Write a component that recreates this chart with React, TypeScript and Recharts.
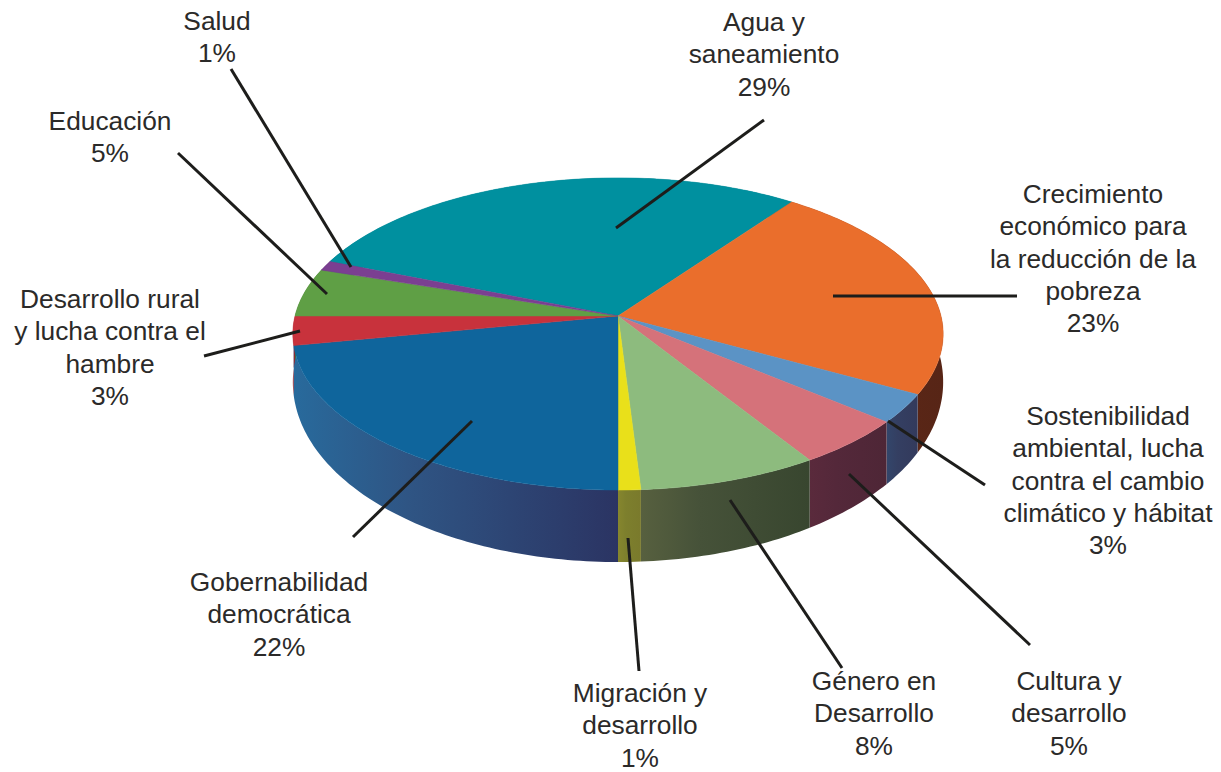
import { PieChart, Pie } from 'recharts';

const categories = [
    ['Agua y', 'saneamiento'],
    ['Crecimiento', 'económico para', 'la reducción de la', 'pobreza'],
    ['Sostenibilidad', 'ambiental, lucha', 'contra el cambio', 'climático y hábitat'],
    ['Cultura y', 'desarrollo'],
    ['Género en', 'Desarrollo'],
    ['Migración y', 'desarrollo'],
    ['Gobernabilidad', 'democrática'],
    ['Desarrollo rural', 'y lucha contra el', 'hambre'],
    ['Educación'],
    ['Salud'],
];
const values = [29, 23, 3, 5, 8, 1, 22, 3, 5, 1];

const topColors = ['#00909f', '#ea6e2c', '#5b93c5', '#d5727a', '#8dbb7e', '#e9e01a', '#0f659c', '#c8323c', '#5f9f45', '#7b3f91'];
const wallLeft = ['#00707c', '#6e2d18', '#33466b', '#5a2a3c', '#57603f', '#86862e', '#286a9c', '#8e2a35', '#3f6f30', '#552c66'];
const wallMid = ['#00707c', '#5f2817', '#343f62', '#54283a', '#465239', '#7d7f2d', '#2f5584', '#8e2a35', '#3f6f30', '#552c66'];
const wallRight = ['#00707c', '#572516', '#333a5c', '#4e2636', '#38462f', '#7a7a2c', '#2b3463', '#8e2a35', '#3f6f30', '#552c66'];

// label placement: centre x, first baseline y, leader line ends
const labelX = [764, 1093, 1108, 1069, 874, 640, 279, 110, 110, 217];
const labelY = [31, 203, 425, 690, 690, 702, 591, 308, 130, 30];
const leaders = [
    [764, 120, 616, 228],
    [1017, 296, 833, 296],
    [985, 485, 888, 421],
    [1030, 645, 849, 474],
    [842, 668, 730, 500],
    [639, 671, 628, 538],
    [353, 537, 472, 421],
    [204, 356, 300, 331],
    [178, 153, 327, 294],
    [231, 69, 351, 267],
];

const SQUASH_X = 323;
const SQUASH_Y = 154;
const PERSPECTIVE = 0.115;

// disc angle -> screen point, near edge of the disc drawn larger
const project = (cx: number, cy: number, deg: number, r = 1) => {
    const t = (deg * Math.PI) / 180;
    const x = r * Math.cos(t);
    const y = r * Math.sin(t);
    const w = 1 + PERSPECTIVE * y;
    return [cx + (SQUASH_X * x) / w, cy - (SQUASH_Y * y) / w];
};

const rim = (cx: number, cy: number, from: number, to: number) => {
    const steps = Math.max(2, Math.ceil(Math.abs(from - to)));
    const pts = [];
    for (let i = 0; i <= steps; i++) {
        pts.push(from + ((to - from) * i) / steps);
    }
    return pts.map(a => ({ a, p: project(cx, cy, a) }));
};

const depthAt = (deg: number) => 45 - 27 * Math.sin((deg * Math.PI) / 180);

const TopSlice = (props: any) => {
    const { cx, cy, startAngle, endAngle, index } = props;
    const pts = rim(cx, cy, startAngle, endAngle).map(q => `${q.p[0]},${q.p[1]}`);
    return <path d={`M${cx},${cy}L${pts.join('L')}Z`} fill={topColors[index]} stroke={topColors[index]} strokeWidth={0.5} />;
};

const WallSlice = (props: any) => {
    const { cx, cy, startAngle, endAngle, index } = props;
    const top = rim(cx, cy, startAngle, endAngle);
    const upper = top.map(q => `${q.p[0]},${q.p[1]}`);
    const lower = [...top].reverse().map(q => `${q.p[0]},${q.p[1] + depthAt(q.a)}`);
    return (
        <g>
            <defs>
                <linearGradient id={`wall-${index}`} x1="0" y1="0" x2="1" y2="0">
                    <stop offset="0%" stopColor={wallLeft[index]} />
                    <stop offset="35%" stopColor={wallMid[index]} />
                    <stop offset="100%" stopColor={wallRight[index]} />
                </linearGradient>
            </defs>
            <path d={`M${upper.join('L')}L${lower.join('L')}Z`} fill={`url(#wall-${index})`} />
        </g>
    );
};

const renderLabel = (props: any) => {
    const { index } = props;
    const [x1, y1, x2, y2] = leaders[index];
    const lines = [...categories[index], `${values[index]}%`];
    return (
        <g key={index}>
            <line x1={x1} y1={y1} x2={x2} y2={y2} stroke="#1d1d1b" strokeWidth={3} />
            <text x={labelX[index]} y={labelY[index]} textAnchor="middle" fontFamily="Liberation Sans" fontSize={26.3} fill="#2b2a29">
                {lines.map((line, i) => (
                    <tspan key={i} x={labelX[index]} dy={i === 0 ? 0 : 32.3}>{line}</tspan>
                ))}
            </text>
        </g>
    );
};

const chartData = categories.map((c, i) => ({ name: c.join(' '), value: values[i] }));

export default function App() {
    return (
        <div style={{ position: 'absolute', left: 0, top: 0, width: 1221, height: 772, background: '#fff' }}>
            <PieChart width={1221} height={772} margin={{ top: 0, right: 0, bottom: 0, left: 0 }}>
                <Pie
                    data={chartData}
                    dataKey="value"
                    cx={618}
                    cy={316}
                    outerRadius={323}
                    startAngle={158.4}
                    endAngle={-201.6}
                    stroke="none"
                    shape={WallSlice}
                    isAnimationActive={false}
                />
                <Pie
                    data={chartData}
                    dataKey="value"
                    cx={618}
                    cy={316}
                    outerRadius={323}
                    startAngle={158.4}
                    endAngle={-201.6}
                    stroke="none"
                    shape={TopSlice}
                    label={renderLabel}
                    labelLine={false}
                    isAnimationActive={false}
                />
            </PieChart>
        </div>
    );
}
